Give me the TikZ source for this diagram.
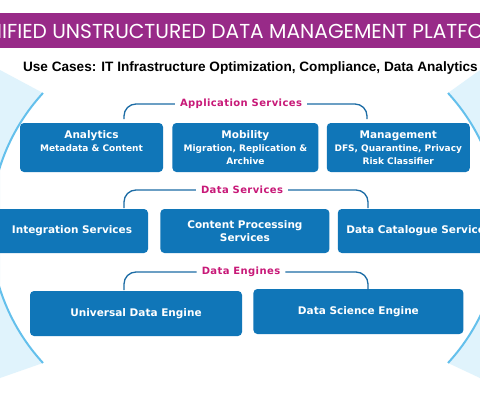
\documentclass[tikz,border=0pt]{standalone}
\usepackage{fontspec}
\setmainfont{DejaVu Sans}
\newfontfamily\titlefont{Poppins}
\newfontfamily\casefont{Liberation Sans}
\newfontfamily\grpfont[LetterSpace=4]{DejaVu Sans}
\usepackage{tikz}
\usetikzlibrary{positioning}
\definecolor{boxblue}{RGB}{16,118,184}
\definecolor{linkblue}{RGB}{28,108,165}
\definecolor{titlepurple}{RGB}{152,42,136}
\definecolor{grppink}{RGB}{200,25,120}
\definecolor{fanblue}{RGB}{224,243,252}
\definecolor{arcblue}{RGB}{100,192,236}
\newcommand{\subline}[1]{{\fontsize{9}{12.5}\selectfont #1}}

\begin{document}
\begin{tikzpicture}[
    x=1pt,y=-1pt,
    box/.style={fill=boxblue,rounded corners=4pt,text=white,align=center,inner sep=2pt,font=\bfseries\fontsize{10.5}{13}\selectfont},
    group/.style={text=grppink,inner sep=5pt,font=\grpfont\bfseries\fontsize{10}{12}\selectfont},
    bracket/.style={draw=linkblue,line width=1.3pt,rounded corners=12pt},
    arcline/.style={draw=arcblue,line width=2pt}
]
    \useasboundingbox (0,0) rectangle (480,415);
    \clip (0,0) rectangle (480,415);
    \fill[white] (0,0) rectangle (480,415);

    \fill[fanblue] (0,70) -- (43,93) arc[start angle=222.56,end angle=137.44,radius=199.6] -- (0,378) -- cycle;
    \draw[arcline] (43,93) arc[start angle=222.56,end angle=137.44,radius=199.6];
    \fill[fanblue] (480,70) -- (448,93) arc[start angle=-42.56,end angle=42.56,radius=199.6] -- (480,378) -- cycle;
    \draw[arcline] (448,93) arc[start angle=-42.56,end angle=42.56,radius=199.6];

    \fill[titlepurple] (0,13) rectangle (480,48);
    \node[anchor=base west,inner sep=0pt,text=white,font=\titlefont\fontsize{20.2}{23}\selectfont] (title) at (2,38) {\llap{UN}IFIED UNSTRUCTURED DATA MANAGEMENT PLATFORM};
    \node[anchor=base east,inner sep=0pt,font=\casefont\bfseries\fontsize{13.6}{15}\selectfont] (usecases) at (478,71) {Use Cases: IT Infrastructure Optimization, Compliance, Data Analytics};

    \node[box,minimum width=143pt,minimum height=49pt] (analytics) at (91.5,147.5) {Analytics\\\subline{Metadata \& Content}\\\mbox{}};
    \node[box,minimum width=146pt,minimum height=49pt,right=9pt of analytics] (mobility) {Mobility\\\subline{Migration, Replication \&}\\\subline{Archive}};
    \node[box,minimum width=143pt,minimum height=49pt,right=8pt of mobility] (management) {Management\\\subline{DFS, Quarantine, Privacy}\\\subline{Risk Classifier}};

    \node[box,minimum width=152pt,minimum height=44pt] (integration) at (72,231) {Integration Services};
    \node[box,minimum width=169pt,minimum height=44pt,right=12pt of integration] (processing) {Content Processing\\Services};
    \node[box,minimum width=162pt,minimum height=44pt,right=8pt of processing] (catalogue) {Data Catalogue Services};

    \node[box,minimum width=212pt,minimum height=45pt] (universal) at (136,313.5) {Universal Data Engine};
    \node[box,minimum width=210pt,minimum height=45pt,right=11pt of universal,yshift=2pt] (science) {Data Science Engine};

    \coordinate (appL) at (124,119);
    \coordinate (appR) at (367,119);
    \node[group] (appgrp) at (241,104) {Application Services};
    \draw[bracket] (appL) |- (appgrp.west);
    \draw[bracket] (appR) |- (appgrp.east);

    \coordinate (dataL) at (124,208);
    \coordinate (dataR) at (368,208);
    \node[group] (datagrp) at (242,190) {Data Services};
    \draw[bracket] (dataL) |- (datagrp.west);
    \draw[bracket] (dataR) |- (datagrp.east);

    \coordinate (engL) at (124,290);
    \coordinate (engR) at (368,290);
    \node[group] (enggrp) at (241,272) {Data Engines};
    \draw[bracket] (engL) |- (enggrp.west);
    \draw[bracket] (engR) |- (enggrp.east);
\end{tikzpicture}
\end{document}
